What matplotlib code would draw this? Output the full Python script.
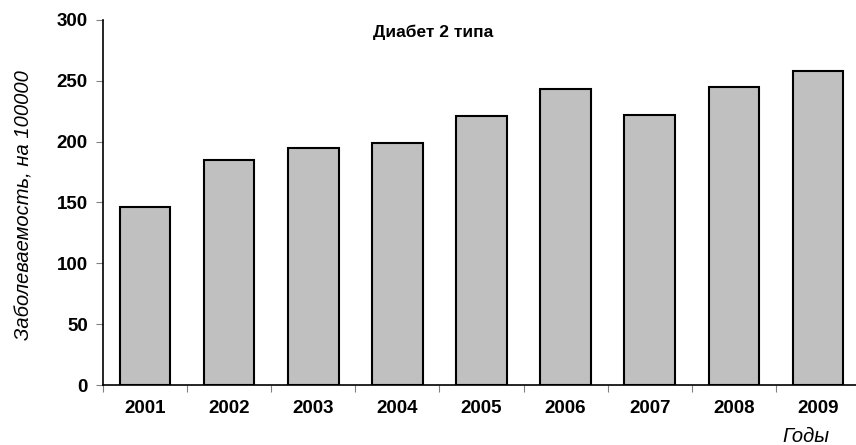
import matplotlib.pyplot as plt

plt.rcParams['font.family'] = ['Liberation Sans', 'DejaVu Sans']

# Заболеваемость диабетом 2 типа по годам
years = ['2001', '2002', '2003', '2004', '2005', '2006', '2007', '2008', '2009']
rates = [146, 185, 195, 199, 221, 243, 222, 245, 258]

fig = plt.figure(figsize=(8.56, 4.45), dpi=100)
# left edge of axes at x=103px, bottom at y=385px, top at y=20px
ax = fig.add_axes([103 / 856, 60 / 445, 757 / 856, 365 / 445])

x = range(len(years))
ax.bar(x, rates, width=0.6, color='#c0c0c0', edgecolor='black', linewidth=1.5)

ax.set_xlim(-0.5, len(years) - 0.5)
ax.set_ylim(0, 300)
ax.set_yticks(range(0, 301, 50))
ax.set_yticklabels([str(v) for v in range(0, 301, 50)], fontsize=13.5, fontweight='bold')

# category labels between boundary ticks
ax.set_xticks([i - 0.5 for i in range(len(years) + 1)])
ax.set_xticklabels([])
ax.set_xticks(list(x), minor=True)
ax.set_xticklabels(years, minor=True, fontsize=13.5, fontweight='bold')
ax.tick_params(axis='x', which='minor', length=0, pad=11)
ax.tick_params(axis='x', which='major', length=5, color='#808080', direction='out')
ax.tick_params(axis='y', length=5, color='#808080', direction='out', pad=6)

for side in ['top', 'right']:
    ax.spines[side].set_visible(False)
ax.spines['left'].set_linewidth(1.2)
ax.spines['bottom'].set_linewidth(1.2)

fig.text(433 / 856, 1 - 32 / 445, 'Диабет 2 типа', ha='center', va='center',
         fontsize=12.5, fontweight='bold')
fig.text(24 / 856, 1 - 205 / 445, 'Заболеваемость, на 100000', rotation=90,
         ha='center', va='center', fontsize=14.5, style='italic')
fig.text(806 / 856, 1 - 437 / 445, 'Годы', ha='center', va='center',
         fontsize=14.5, style='italic')

fig.savefig('out.png', dpi=100)
